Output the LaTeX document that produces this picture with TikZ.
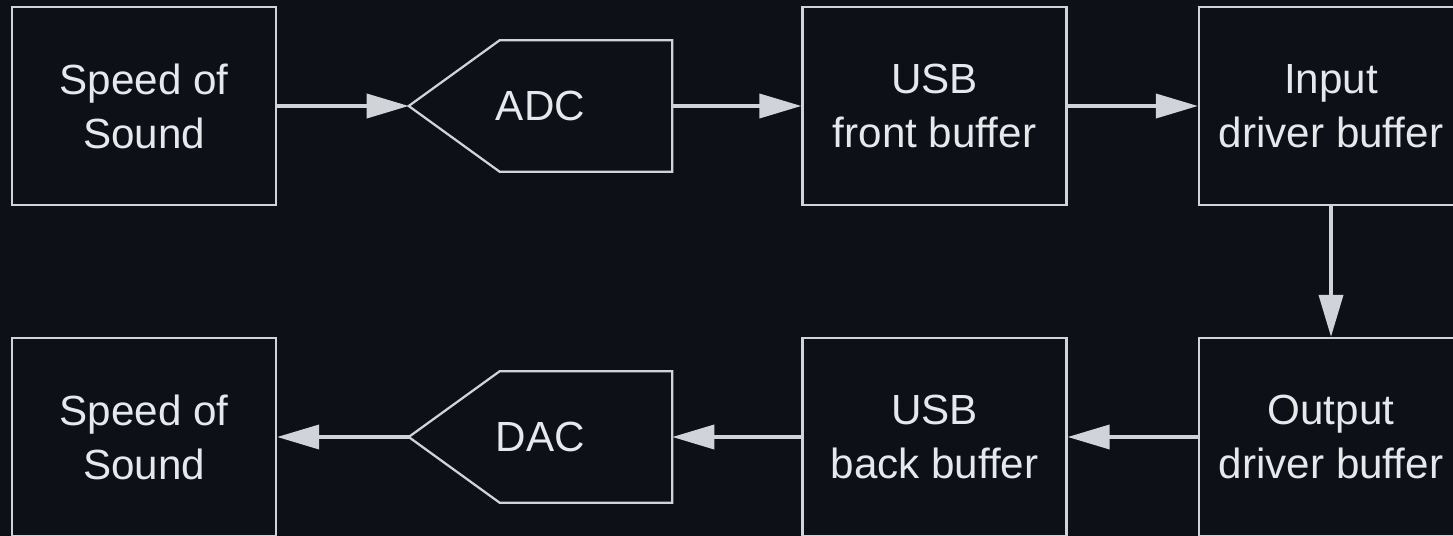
\documentclass[tikz,border=0pt]{standalone}
\usepackage{fontspec}
\setmainfont{Liberation Sans}
\usepackage{tikz}
\usetikzlibrary{arrows.meta}
\usetikzlibrary{calc}
\definecolor{fondo}{HTML}{0D1017}
\definecolor{linea}{HTML}{D0D4D9}
\definecolor{texto}{HTML}{E6E8EB}

\begin{document}
\begin{tikzpicture}[
  caja/.style={draw=linea, line width=1.6pt, minimum width=6.6cm, minimum height=4.95cm,
    text=texto, align=center, font=\fontsize{30}{38.5}\selectfont},
  conv/.style={minimum width=6.575cm, minimum height=3.275cm, inner sep=0pt,
    text=texto, font=\fontsize{30}{38.5}\selectfont},
  flecha/.style={draw=linea, line width=2.6pt, -{Triangle[length=1.05cm,width=0.6cm]}}
 ]
 % Fondo
 \fill[fondo] (0,0) rectangle (36.325,13.4);
 \useasboundingbox (0,0) rectangle (36.325,13.4);

 % Fila de entrada
 \node[caja] (speedin)  at (3.6,10.75)     {Speed of\\Sound};
 \node[conv] (adc)      at (13.5125,10.75) {ADC};
 \node[caja] (usbfront) at (23.3625,10.75) {USB\\front buffer};
 \node[caja] (inbuf)    at (33.275,10.75)  {Input\\driver buffer};

 % Fila de salida
 \node[caja] (outbuf)   at (33.275,2.475)  {Output\\driver buffer};
 \node[caja] (usbback)  at (23.3625,2.475) {USB\\back buffer};
 \node[conv] (dac)      at (13.5125,2.475) {DAC};
 \node[caja] (speedout) at (3.6,2.475)     {Speed of\\Sound};

 % Convertidores
 \foreach \c in {adc,dac}
  \draw[linea, line width=1.6pt] (\c.west) -- ($(\c.north west)+(2.275,0)$) -- (\c.north east)
   -- (\c.south east) -- ($(\c.south west)+(2.275,0)$) -- cycle;

 % Flechas
 \draw[flecha] (speedin) -- (adc);
 \draw[flecha] (adc) -- (usbfront);
 \draw[flecha] (usbfront) -- (inbuf);
 \draw[flecha] (inbuf) -- (outbuf);
 \draw[flecha] (outbuf) -- (usbback);
 \draw[flecha] (usbback) -- (dac);
 \draw[flecha] (dac) -- (speedout);
\end{tikzpicture}
\end{document}
